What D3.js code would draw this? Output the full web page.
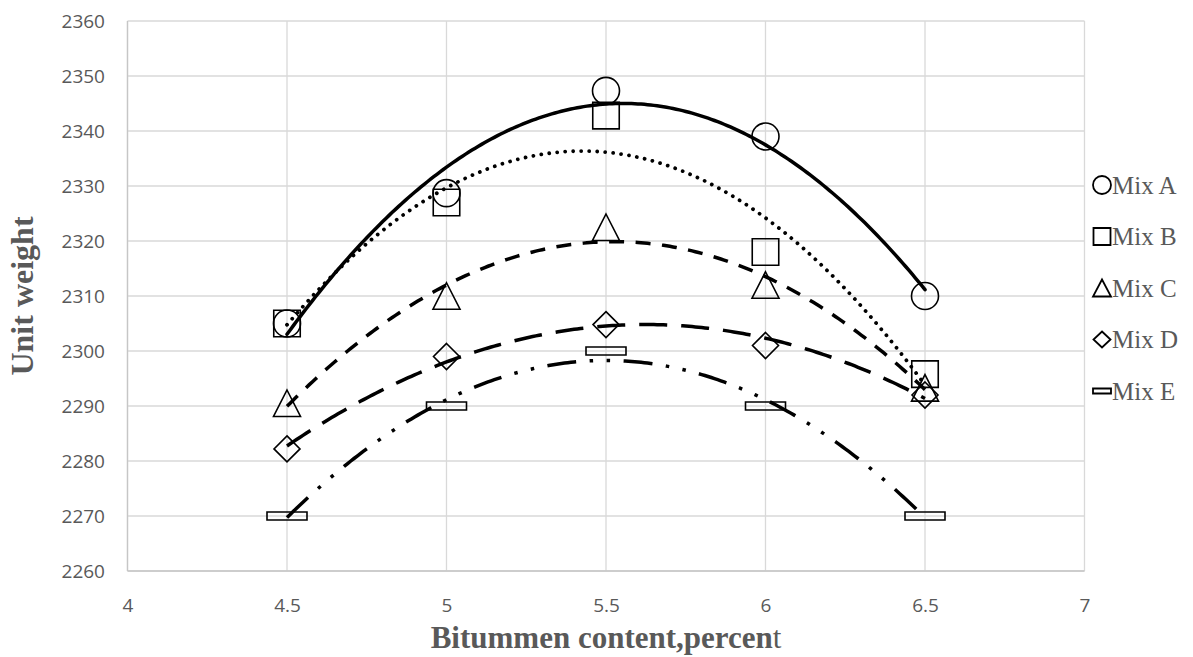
<!DOCTYPE html>
<html><head><meta charset="utf-8">
<script src="https://cdn.jsdelivr.net/npm/d3@7"></script>
<style>body{margin:0;background:#fff}</style></head>
<body>
<svg id="chart" width="1193" height="657"></svg>
<script>
// ---- data ----
const bitumen = [4.5, 5, 5.5, 6, 6.5];
const mixA = [2305, 2328.7, 2347.3, 2339, 2310];
const mixB = [2305, 2327, 2342.8, 2318, 2295.8];
const mixC = [2290.5, 2310, 2322.5, 2312, 2293.3];
const mixD = [2282.2, 2299, 2304.8, 2301, 2292];
const mixE = [2270, 2290, 2300, 2290, 2270];
const seriesNames = ["Mix A", "Mix B", "Mix C", "Mix D", "Mix E"];
const xTicks = [4, 4.5, 5, 5.5, 6, 6.5, 7];
const yTicks = [2260, 2270, 2280, 2290, 2300, 2310, 2320, 2330, 2340, 2350, 2360];
const xTitle = "Bitummen content,percen";
const xTitleTail = "t";
const yTitle = "Unit weight";

const seriesValues = [mixA, mixB, mixC, mixD, mixE];
const markerTypes = ["circle", "square", "triangle", "diamond", "dash"];
const dashStyles = [null, "0.01 8", "15 11.5", "28 14", "29 13.5 3.5 13.5 3.5 13.5"];
const lineCaps = ["round", "round", "butt", "butt", "butt"];
const lineWidths = [3.5, 3.8, 3.5, 3.5, 3.5];

const svg = d3.select("#chart");
const L = 127.5, R = 1084.5, T = 21, B = 571;
const x = d3.scaleLinear().domain([4, 7]).range([L, R]);
const y = d3.scaleLinear().domain([2260, 2360]).range([B, T]);

const gray = "#595959";

// gridlines
svg.append("g").selectAll("line").data(yTicks).join("line")
  .attr("x1", L).attr("x2", R).attr("y1", d => y(d)).attr("y2", d => y(d))
  .attr("stroke", "#d9d9d9").attr("stroke-width", 1.3);
svg.append("g").selectAll("line").data(xTicks).join("line")
  .attr("y1", T).attr("y2", B).attr("x1", d => x(d)).attr("x2", d => x(d))
  .attr("stroke", "#d9d9d9").attr("stroke-width", 1.3);
// axis lines
svg.append("line").attr("x1", L).attr("x2", R).attr("y1", B).attr("y2", B)
  .attr("stroke", "#c6c6c6").attr("stroke-width", 1.3);
svg.append("line").attr("x1", L).attr("x2", L).attr("y1", T).attr("y2", B)
  .attr("stroke", "#c6c6c6").attr("stroke-width", 1.3);

// axes tick labels via d3 axes
const yAxis = d3.axisLeft(y).tickValues(yTicks).tickSize(0).tickPadding(0).tickFormat(d3.format("d"));
const gy = svg.append("g").attr("transform", `translate(${105},0)`).call(yAxis);
gy.select(".domain").remove();
gy.selectAll("text").attr("font-family", "'Open Sans', sans-serif").attr("font-size", 19)
  .attr("fill", gray).attr("x", 0).attr("dy", "0.36em");

const xAxis = d3.axisBottom(x).tickValues(xTicks).tickSize(0).tickPadding(0).tickFormat(d => String(d));
const gx = svg.append("g").attr("transform", `translate(0,${B})`).call(xAxis);
gx.select(".domain").remove();
gx.selectAll("text").attr("font-family", "'Open Sans', sans-serif").attr("font-size", 19)
  .attr("fill", gray).attr("y", 41).attr("dy", 0);

// axis titles
const xt = svg.append("text").attr("x", (L + R) / 2).attr("y", 648).attr("text-anchor", "middle")
  .attr("font-family", "'Liberation Serif', 'Times New Roman', serif").attr("font-size", 31)
  .attr("fill", gray);
xt.append("tspan").attr("font-weight", "bold").text(xTitle);
xt.append("tspan").attr("font-weight", "normal").text(xTitleTail);

svg.append("text").attr("transform", `translate(33,${(T + B) / 2}) rotate(-90)`)
  .attr("text-anchor", "middle")
  .attr("font-family", "'Liberation Serif', 'Times New Roman', serif").attr("font-size", 32)
  .attr("font-weight", "bold").attr("fill", gray).text(yTitle);

// marker path generator
function markerPath(type, cx, cy, s) {
  const p = d3.path();
  if (type === "circle") { p.moveTo(cx + s.r, cy); p.arc(cx, cy, s.r, 0, 2 * Math.PI); }
  else if (type === "square") { p.rect(cx - s.w / 2, cy - s.w / 2, s.w, s.w); }
  else if (type === "triangle") { p.moveTo(cx, cy - s.h / 2); p.lineTo(cx + s.w / 2, cy + s.h / 2); p.lineTo(cx - s.w / 2, cy + s.h / 2); p.closePath(); }
  else if (type === "diamond") { p.moveTo(cx, cy - s.h / 2); p.lineTo(cx + s.w / 2, cy); p.lineTo(cx, cy + s.h / 2); p.lineTo(cx - s.w / 2, cy); p.closePath(); }
  else if (type === "dash") { p.rect(cx - s.w / 2, cy - s.h / 2, s.w, s.h); }
  return p.toString();
}
const plotSizes = {
  circle: { r: 13.5 }, square: { w: 26.5 }, triangle: { w: 27, h: 26.5 },
  diamond: { w: 26, h: 26 }, dash: { w: 40, h: 8 }
};
const legendSizes = {
  circle: { r: 9 }, square: { w: 17 }, triangle: { w: 18, h: 17 },
  diamond: { w: 17, h: 16 }, dash: { w: 18, h: 5 }
};

// least squares quadratic fit (Excel polynomial trendline, order 2)
function quadFit(xs, ys) {
  const n = xs.length;
  let s = [0, 0, 0, 0, 0], t = [0, 0, 0];
  for (let i = 0; i < n; i++) {
    for (let k = 0; k < 5; k++) s[k] += Math.pow(xs[i], k);
    for (let k = 0; k < 3; k++) t[k] += ys[i] * Math.pow(xs[i], k);
  }
  const M = [[s[0], s[1], s[2], t[0]], [s[1], s[2], s[3], t[1]], [s[2], s[3], s[4], t[2]]];
  for (let i = 0; i < 3; i++) {
    let piv = i;
    for (let r = i + 1; r < 3; r++) if (Math.abs(M[r][i]) > Math.abs(M[piv][i])) piv = r;
    [M[i], M[piv]] = [M[piv], M[i]];
    for (let r = 0; r < 3; r++) if (r !== i) {
      const f = M[r][i] / M[i][i];
      for (let c = i; c < 4; c++) M[r][c] -= f * M[i][c];
    }
  }
  return [M[0][3] / M[0][0], M[1][3] / M[1][1], M[2][3] / M[2][2]];
}

const line = d3.line().x(d => x(d[0])).y(d => y(d[1]));
const gMarkers = svg.append("g");
const gLines = svg.append("g");

seriesValues.forEach((vals, si) => {
  // markers
  gMarkers.selectAll(null).data(bitumen.map((b, i) => [b, vals[i]])).join("path")
    .attr("d", d => markerPath(markerTypes[si], x(d[0]), y(d[1]), plotSizes[markerTypes[si]]))
    .attr("fill", "none").attr("stroke", "#000").attr("stroke-width", 1.6);
  // trendline
  const c = quadFit(bitumen, vals);
  const x0 = d3.min(bitumen), x1 = d3.max(bitumen);
  const pts = d3.range(0, 201).map(i => {
    const xv = x0 + (x1 - x0) * i / 200;
    return [xv, c[0] + c[1] * xv + c[2] * xv * xv];
  });
  const pth = gLines.append("path").datum(pts).attr("d", line)
    .attr("fill", "none").attr("stroke", "#000")
    .attr("stroke-width", lineWidths[si]).attr("stroke-linecap", lineCaps[si]);
  if (dashStyles[si]) pth.attr("stroke-dasharray", dashStyles[si]);
});

// legend
const legendY = [185, 236.5, 288, 339.5, 391];
const lg = svg.append("g");
seriesNames.forEach((name, i) => {
  lg.append("path").attr("d", markerPath(markerTypes[i], 1102, legendY[i], legendSizes[markerTypes[i]]))
    .attr("fill", "none").attr("stroke", "#000").attr("stroke-width", 1.8);
  lg.append("text").attr("x", 1112).attr("y", legendY[i] + 8.5)
    .attr("font-family", "'Liberation Serif', 'Times New Roman', serif").attr("font-size", 25)
    .attr("fill", gray).text(name);
});
</script>
</body></html>
